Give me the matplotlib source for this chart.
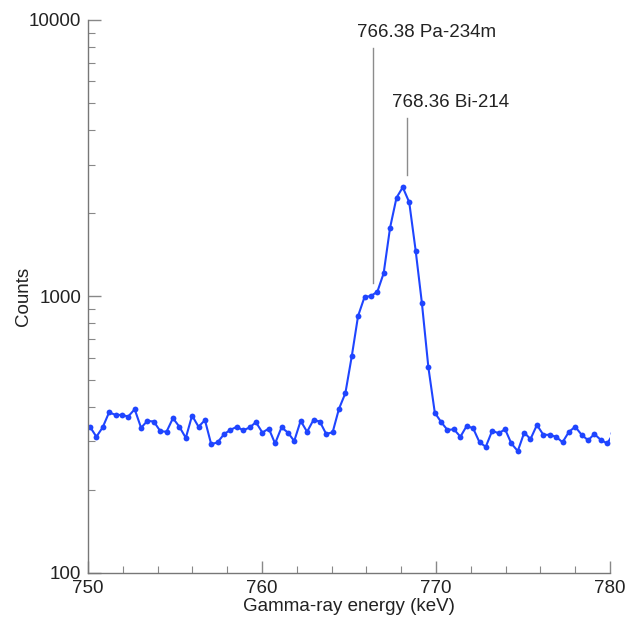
import matplotlib
matplotlib.use('Agg')
import matplotlib.pyplot as plt
from matplotlib.ticker import FixedLocator, FixedFormatter, LogLocator, NullFormatter

plt.rcParams['font.family'] = ['Liberation Sans', 'DejaVu Sans']

# channel energies (keV) and counts around the 766-768 keV doublet
energy = [750.11, 750.48, 750.84, 751.21, 751.58, 751.95, 752.31, 752.68, 753.05, 753.41,
          753.78, 754.15, 754.51, 754.88, 755.25, 755.62, 755.98, 756.35, 756.72, 757.08,
          757.45, 757.82, 758.18, 758.55, 758.92, 759.29, 759.65, 760.02, 760.39, 760.75,
          761.12, 761.49, 761.85, 762.22, 762.59, 762.96, 763.32, 763.69, 764.06, 764.42,
          764.79, 765.16, 765.52, 765.89, 766.26, 766.63, 766.99, 767.36, 767.73, 768.09,
          768.46, 768.83, 769.19, 769.56, 769.93, 770.30, 770.66, 771.03, 771.40, 771.76,
          772.13, 772.50, 772.86, 773.23, 773.60, 773.97, 774.33, 774.70, 775.07, 775.43,
          775.80, 776.17, 776.53, 776.90, 777.27, 777.64, 778.00, 778.37, 778.74, 779.10,
          779.47, 779.84, 780.20]
counts = [338, 311, 336, 381, 373, 373, 368, 391, 335, 355,
          353, 326, 324, 363, 338, 308, 371, 338, 357, 292,
          297, 318, 329, 338, 328, 336, 351, 322, 333, 294,
          336, 322, 300, 355, 324, 358, 353, 318, 323, 392,
          447, 609, 850, 995, 1004, 1041, 1213, 1774, 2277, 2483,
          2191, 1465, 945, 555, 380, 351, 329, 331, 311, 340,
          334, 297, 286, 327, 320, 331, 294, 276, 322, 305,
          343, 316, 316, 311, 297, 324, 338, 316, 302, 318,
          303, 294, 320]

# line labels: text, energy, line bottom/top, text position
peak_labels = ['766.38 Pa-234m', '768.36 Bi-214']
peak_energy = [766.38, 768.36]
line_lo = [1119, 2748]
line_hi = [7925, 4427]
text_x = [769.48, 770.86]
text_y = [8977, 5048]

fig = plt.figure(figsize=(6.27, 6.28), dpi=100)
ax = fig.add_axes([0.1404, 0.0876, 0.8325, 0.8806])

ax.plot(energy, counts, color='#1f45ff', lw=1.5, marker='o', ms=4.2,
        markeredgewidth=0, clip_on=True)

for lab, e, lo, hi, tx, ty in zip(peak_labels, peak_energy, line_lo, line_hi, text_x, text_y):
    ax.plot([e, e], [lo, hi], color='#8c8c8c', lw=1)
    ax.text(tx, ty, lab, ha='center', va='center', fontsize=13.5, color='#222222')

ax.set_yscale('log')
ax.set_xlim(750, 780)
ax.set_ylim(100, 10000)

ax.xaxis.set_major_locator(FixedLocator([750, 760, 770, 780]))
ax.xaxis.set_minor_locator(FixedLocator([752, 754, 756, 758, 762, 764, 766, 768,
                                         772, 774, 776, 778]))
ax.yaxis.set_major_locator(FixedLocator([100, 1000, 10000]))
ax.yaxis.set_major_formatter(FixedFormatter(['100', '1000', '10000']))
ax.yaxis.set_minor_locator(LogLocator(base=10, subs=range(2, 10)))
ax.yaxis.set_minor_formatter(NullFormatter())

for s in ['top', 'right']:
    ax.spines[s].set_visible(False)
for s in ['left', 'bottom']:
    ax.spines[s].set_color('#777777')
    ax.spines[s].set_linewidth(1)

ax.tick_params(which='both', direction='in', color='#888888', labelsize=13.5, labelcolor='#222222')
ax.tick_params(which='major', length=9, width=1, pad=5)
ax.tick_params(which='minor', length=5, width=0.8)

ax.set_xlabel('Gamma-ray energy (keV)', fontsize=13.5, color='#222222', labelpad=1)
ax.set_ylabel('Counts', fontsize=13.5, color='#222222')
ax.yaxis.set_label_coords(-0.108, 0.5)

fig.savefig('out.png', dpi=100)
